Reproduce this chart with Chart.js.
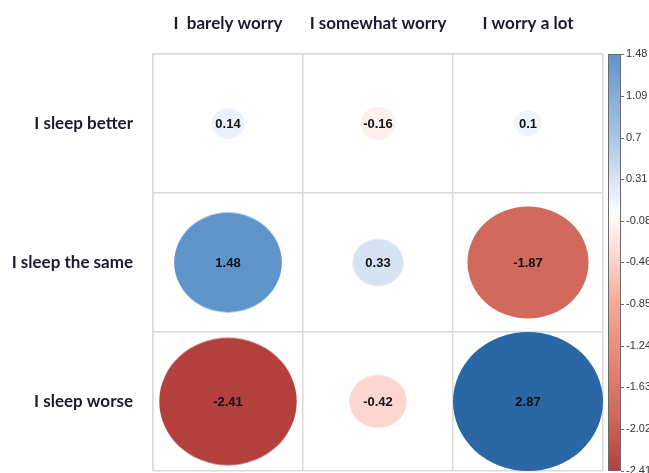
<!DOCTYPE html>
<html lang="en">
<head>
  <meta charset="UTF-8" />
  <title>Sleep vs worry</title>
  <script src="https://cdn.jsdelivr.net/npm/chart.js"></script>
  <style>
    body { margin: 0; background: #fff; overflow: hidden; }
    canvas { display: block; }
  </style>
</head>
<body>
  <canvas id="corrChart" width="649" height="473"></canvas>
  <script>
    const worryLabels = ['I  barely worry', 'I somewhat worry', 'I worry a lot'];
    const sleepLabels = ['I sleep better', 'I sleep the same', 'I sleep worse'];
    const sleepBetter = [0.14, -0.16, 0.1];
    const sleepSame = [1.48, 0.33, -1.87];
    const sleepWorse = [-2.41, -0.42, 2.87];
    const legendTicks = [1.48, 1.09, 0.7, 0.31, -0.08, -0.46, -0.85, -1.24, -1.63, -2.02, -2.41];

    // colour scale (value -> colour), white around zero
    const colorStops = [
      [-2.41, '#B4403D'], [-1.87, '#D16A5C'], [-1.24, '#EE8E7E'], [-0.85, '#F6A898'],
      [-0.42, '#FDD7CF'], [0, '#FFFFFF'], [0.1, '#EEF4FC'], [0.33, '#D5E2F3'],
      [0.7, '#A9C6E6'], [1.48, '#5F94CB'], [2.87, '#2B67A4']
    ];

    const hexRgb = h => [1, 3, 5].map(i => parseInt(h.slice(i, i + 2), 16));
    function colorFor(v) {
      if (v <= colorStops[0][0]) return colorStops[0][1];
      for (let i = 1; i < colorStops.length; i++) {
        const [v1, c1] = colorStops[i];
        if (v <= v1) {
          const [v0, c0] = colorStops[i - 1];
          const t = (v - v0) / (v1 - v0);
          const a = hexRgb(c0), b = hexRgb(c1);
          return 'rgb(' + a.map((x, k) => Math.round(x + (b[k] - x) * t)).join(',') + ')';
        }
      }
      return colorStops[colorStops.length - 1][1];
    }

    const rows = [sleepBetter, sleepSame, sleepWorse];
    const points = [];
    rows.forEach((vals, i) => vals.forEach((v, j) => points.push({ x: worryLabels[j], y: sleepLabels[i], v })));
    const maxAbs = Math.max(...points.map(p => Math.abs(p.v)));

    // ellipse sized to the cell, area proportional to |v|
    function ellipseStyle(ctx) {
      const raw = ctx.raw;
      if (!raw) return 'circle';
      const xs = ctx.chart.scales.x, ys = ctx.chart.scales.y;
      const cellW = Math.abs(xs.getPixelForValue(1) - xs.getPixelForValue(0));
      const cellH = Math.abs(ys.getPixelForValue(1) - ys.getPixelForValue(0));
      const k = Math.sqrt(Math.abs(raw.v) / maxAbs);
      const rx = cellW / 2 * k, ry = cellH / 2 * k;
      const c = document.createElement('canvas');
      c.width = Math.ceil(rx * 2) + 2;
      c.height = Math.ceil(ry * 2) + 2;
      const g = c.getContext('2d');
      g.fillStyle = colorFor(raw.v);
      g.beginPath();
      g.ellipse(c.width / 2, c.height / 2, rx, ry, 0, 0, Math.PI * 2);
      g.fill();
      return c;
    }

    const valueLabels = {
      id: 'valueLabels',
      afterDatasetsDraw(chart) {
        const ctx = chart.ctx;
        ctx.save();
        ctx.font = 'bold 13px "Liberation Sans", Arial, sans-serif';
        ctx.fillStyle = '#111';
        ctx.textAlign = 'center';
        ctx.textBaseline = 'middle';
        chart.getDatasetMeta(0).data.forEach((pt, i) => {
          ctx.fillText(String(points[i].v), pt.x, pt.y + 1);
        });
        ctx.restore();
      }
    };

    const colorBar = {
      id: 'colorBar',
      afterDraw(chart) {
        const s = chart.scales.cb;
        const ctx = chart.ctx;
        const left = s.left + 5, w = 13;
        const top = s.top, bottom = s.bottom;
        const grad = ctx.createLinearGradient(0, bottom, 0, top);
        for (let i = 0; i <= 40; i++) {
          grad.addColorStop(i / 40, colorFor(s.min + (s.max - s.min) * i / 40));
        }
        ctx.save();
        ctx.fillStyle = grad;
        ctx.fillRect(left, top, w, bottom - top);
        ctx.strokeStyle = '#6b6b6b';
        ctx.lineWidth = 1;
        ctx.strokeRect(left + 0.5, top + 0.5, w - 1, bottom - top - 1);
        ctx.beginPath();
        legendTicks.forEach(v => {
          const y = Math.round(s.getPixelForValue(v)) + 0.5;
          ctx.moveTo(left + w, y);
          ctx.lineTo(left + w + 3, y);
        });
        ctx.stroke();
        ctx.restore();
      }
    };

    const labelFont = { family: 'Lato, "Open Sans", sans-serif', size: 17, weight: 'bold' };
    const gridStyle = { color: '#D9D9D9', lineWidth: 1.5, drawTicks: false, offset: true };
    const noPad = s => { s.paddingTop = 0; s.paddingBottom = 0; s.paddingLeft = 0; s.paddingRight = 0; };

    new Chart(document.getElementById('corrChart'), {
      type: 'scatter',
      data: {
        datasets: [{
          data: points,
          pointStyle: ellipseStyle,
          pointRadius: 5,
          borderWidth: 0
        }]
      },
      options: {
        responsive: false,
        animation: false,
        events: [],
        layout: { autoPadding: false, padding: { top: 0, left: 0, right: 0, bottom: 2 } },
        plugins: { legend: { display: false }, tooltip: { enabled: false } },
        scales: {
          x: {
            type: 'category', position: 'top', labels: worryLabels, offset: true,
            grid: gridStyle,
            border: { display: true, color: '#D9D9D9', width: 1.5 },
            ticks: { font: labelFont, color: '#1b1b2b', padding: 20, maxRotation: 0, autoSkip: false },
            afterFit: s => { s.height = 54; noPad(s); }
          },
          y: {
            type: 'category', position: 'left', labels: sleepLabels, offset: true,
            grid: gridStyle,
            border: { display: true, color: '#D9D9D9', width: 1.5 },
            ticks: { font: labelFont, color: '#1b1b2b', padding: 20, autoSkip: false },
            afterFit: s => { s.width = 153; noPad(s); }
          },
          cb: {
            type: 'linear', position: 'right', min: -2.41, max: 1.48,
            grid: { display: false, drawTicks: false },
            border: { display: false },
            afterBuildTicks: s => { s.ticks = legendTicks.map(v => ({ value: v })); },
            ticks: {
              padding: 23, color: '#333',
              font: { family: '"Liberation Sans", Arial, sans-serif', size: 11 },
              callback: v => String(v)
            },
            afterFit: s => { s.width = 46; noPad(s); }
          }
        }
      },
      plugins: [valueLabels, colorBar]
    });
  </script>
</body>
</html>
